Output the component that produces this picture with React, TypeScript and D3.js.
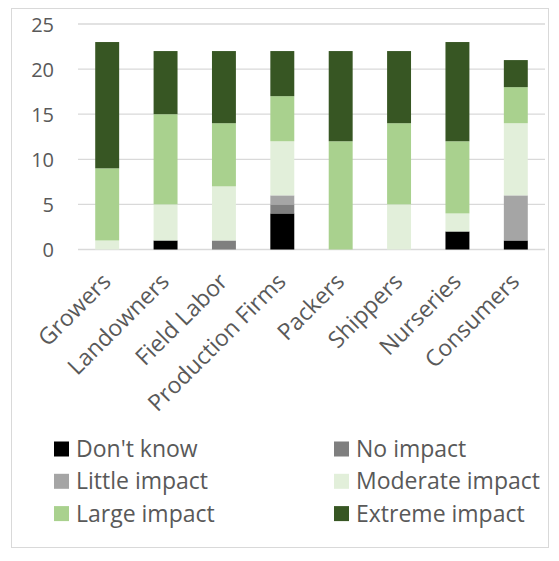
import * as d3 from "d3";

const categories = [
    "Growers",
    "Landowners",
    "Field Labor",
    "Production Firms",
    "Packers",
    "Shippers",
    "Nurseries",
    "Consumers",
];

const seriesNames = [
    "Don't know",
    "No impact",
    "Little impact",
    "Moderate impact",
    "Large impact",
    "Extreme impact",
];

const dontKnow = [0, 1, 0, 4, 0, 0, 2, 1];
const noImpact = [0, 0, 1, 1, 0, 0, 0, 0];
const littleImpact = [0, 0, 0, 1, 0, 0, 0, 5];
const moderateImpact = [1, 4, 6, 6, 0, 5, 2, 8];
const largeImpact = [8, 10, 7, 5, 12, 9, 8, 4];
const extremeImpact = [14, 7, 8, 5, 10, 8, 11, 3];

const yTicks = [0, 5, 10, 15, 20, 25];

const colors = ["#000000", "#7f7f7f", "#a5a5a5", "#e2efda", "#a9d18e", "#375623"];

export default function App() {
    const width = 559;
    const height = 561;
    const margin = { top: 24, right: 14, bottom: 311.5, left: 78 };

    const seriesValues = [dontKnow, noImpact, littleImpact, moderateImpact, largeImpact, extremeImpact];
    const rows = categories.map((c, i) => {
        const row: Record<string, number | string> = { category: c };
        seriesNames.forEach((s, j) => (row[s] = seriesValues[j][i]));
        return row;
    });
    const stacked = d3.stack<Record<string, number | string>>().keys(seriesNames)(rows as any);

    const xScale = d3
        .scaleBand()
        .domain(categories)
        .range([margin.left, width - margin.right])
        .paddingInner(0.59)
        .paddingOuter(0.295);

    const yScale = d3
        .scaleLinear()
        .domain([0, 25])
        .range([height - margin.bottom, margin.top]);

    const font = "'Open Sans', sans-serif";
    const textColor = "#595959";

    return (
        <div style={{ position: "absolute", left: 0, top: 0 }}>
            <svg width={width} height={height} viewBox={`0 0 ${width} ${height}`}>
                <rect x={0} y={0} width={width} height={height} fill="#ffffff" />
                <rect x={11.5} y={8.5} width={537} height={539} fill="none" stroke="#d9d9d9" />

                {yTicks.map((tick) => (
                    <g key={tick}>
                        <line
                            x1={margin.left}
                            x2={width - margin.right}
                            y1={yScale(tick)}
                            y2={yScale(tick)}
                            stroke="#d9d9d9"
                            strokeWidth={1.3}
                        />
                        <text
                            x={54}
                            y={yScale(tick)}
                            textAnchor="end"
                            dominantBaseline="central"
                            fontSize={20}
                            fontFamily={font}
                            fill={textColor}
                        >
                            {tick}
                        </text>
                    </g>
                ))}

                {stacked.map((layer, j) => (
                    <g key={layer.key} fill={colors[j]}>
                        {layer.map((d, i) => {
                            const h = yScale(d[0]) - yScale(d[1]);
                            if (h <= 0) return null;
                            return (
                                <rect
                                    key={categories[i]}
                                    x={xScale(categories[i]) ?? 0}
                                    y={yScale(d[1])}
                                    width={xScale.bandwidth()}
                                    height={h}
                                />
                            );
                        })}
                    </g>
                ))}

                {categories.map((c) => {
                    const cx = (xScale(c) ?? 0) + xScale.bandwidth() / 2 + 5;
                    const ty = 283;
                    return (
                        <text
                            key={c}
                            x={cx}
                            y={ty}
                            transform={`rotate(-45 ${cx} ${ty})`}
                            textAnchor="end"
                            fontSize={23}
                            fontFamily={font}
                            fill={textColor}
                        >
                            {c}
                        </text>
                    );
                })}

                {seriesNames.map((s, j) => {
                    const col = j % 2;
                    const row = Math.floor(j / 2);
                    const x = col === 0 ? 54 : 334;
                    const y = 449 + row * 32.3;
                    return (
                        <g key={s}>
                            <rect x={x} y={y - 7.5} width={15} height={15} fill={colors[j]} />
                            <text
                                x={x + 22}
                                y={y + 8}
                                fontSize={23}
                                fontFamily={font}
                                fill={textColor}
                            >
                                {s}
                            </text>
                        </g>
                    );
                })}
            </svg>
        </div>
    );
}
